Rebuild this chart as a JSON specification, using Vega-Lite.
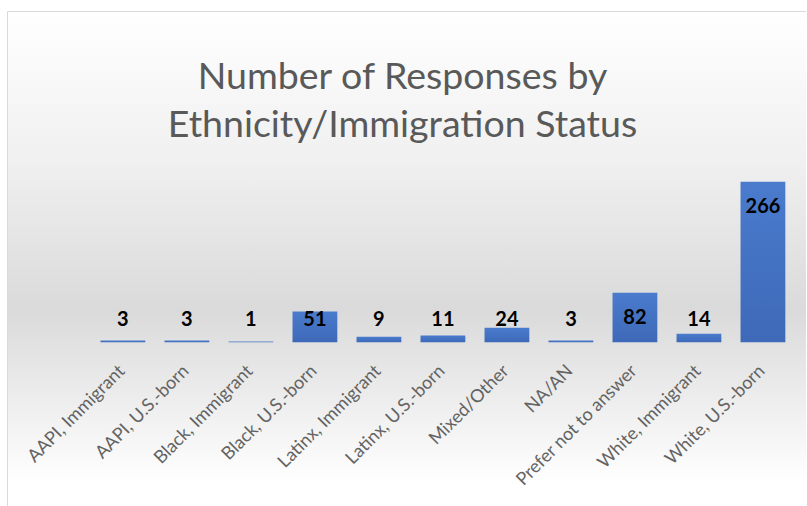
{
  "$schema": "https://vega.github.io/schema/vega-lite/v6.json",
  "width": 799,
  "height": 497,
  "autosize": {"type": "none"},
  "padding": {"left": 7, "top": 11, "right": 0, "bottom": 0},
  "background": "#ffffff",
  "view": {
    "fill": {
      "gradient": "linear", "x1": 0, "y1": 0, "x2": 0, "y2": 1,
      "stops": [
        {"offset": 0, "color": "#ffffff"},
        {"offset": 0.3, "color": "#f0f0f0"},
        {"offset": 0.6, "color": "#dadada"},
        {"offset": 0.95, "color": "#ffffff"},
        {"offset": 1, "color": "#ffffff"}
      ]
    },
    "stroke": "#d9d9d9",
    "strokeWidth": 1
  },
  "title": {
    "text": ["Number of Responses by", "Ethnicity/Immigration Status"],
    "font": "Lato",
    "fontSize": 37.5,
    "fontWeight": "normal",
    "color": "#595959",
    "lineHeight": 48,
    "anchor": "middle",
    "frame": "group",
    "offset": -133,
    "dx": -4
  },
  "data": {
    "values": [
      {"group": "AAPI, Immigrant", "count": 3},
      {"group": "AAPI, U.S.-born", "count": 3},
      {"group": "Black, Immigrant", "count": 1},
      {"group": "Black, U.S.-born", "count": 51},
      {"group": "Latinx, Immigrant", "count": 9},
      {"group": "Latinx, U.S.-born", "count": 11},
      {"group": "Mixed/Other", "count": 24},
      {"group": "NA/AN", "count": 3},
      {"group": "Prefer not to answer", "count": 82},
      {"group": "White, Immigrant", "count": 14},
      {"group": "White, U.S.-born", "count": 266}
    ]
  },
  "encoding": {
    "x": {
      "field": "group",
      "type": "nominal",
      "sort": null,
      "scale": {"paddingInner": 0.3, "paddingOuter": 0.892, "align": 0.819},
      "axis": {
        "title": null,
        "labelAngle": -45,
        "labelFont": "Lato",
        "labelFontSize": 18,
        "labelColor": "#636363",
        "ticks": false,
        "domain": false,
        "grid": false,
        "labelPadding": 20,
        "labelOffset": -7,
        "offset": -166.3
      }
    }
  },
  "layer": [
    {
      "mark": {
        "type": "bar",
        "color": {
          "gradient": "linear", "x1": 0, "y1": 0, "x2": 0, "y2": 1,
          "stops": [
            {"offset": 0, "color": "#4a7bcd"},
            {"offset": 1, "color": "#3e69b8"}
          ]
        }
      },
      "encoding": {
        "y": {
          "field": "count",
          "type": "quantitative",
          "scale": {"domain": [-275, 549.3], "nice": false, "zero": false},
          "axis": null
        }
      }
    },
    {
      "transform": [{"filter": "datum.count < 60"}],
      "mark": {"type": "text", "font": "Lato", "fontWeight": "bold", "fontSize": 20, "color": "#000000", "baseline": "middle", "dy": -22.5},
      "encoding": {
        "y": {"datum": 0, "type": "quantitative"},
        "text": {"field": "count", "type": "quantitative"}
      }
    },
    {
      "transform": [{"filter": "datum.count >= 60"}],
      "mark": {"type": "text", "font": "Lato", "fontWeight": "bold", "fontSize": 20, "color": "#000000", "baseline": "middle", "dy": 25},
      "encoding": {
        "y": {"field": "count", "type": "quantitative"},
        "text": {"field": "count", "type": "quantitative"}
      }
    }
  ]
}
